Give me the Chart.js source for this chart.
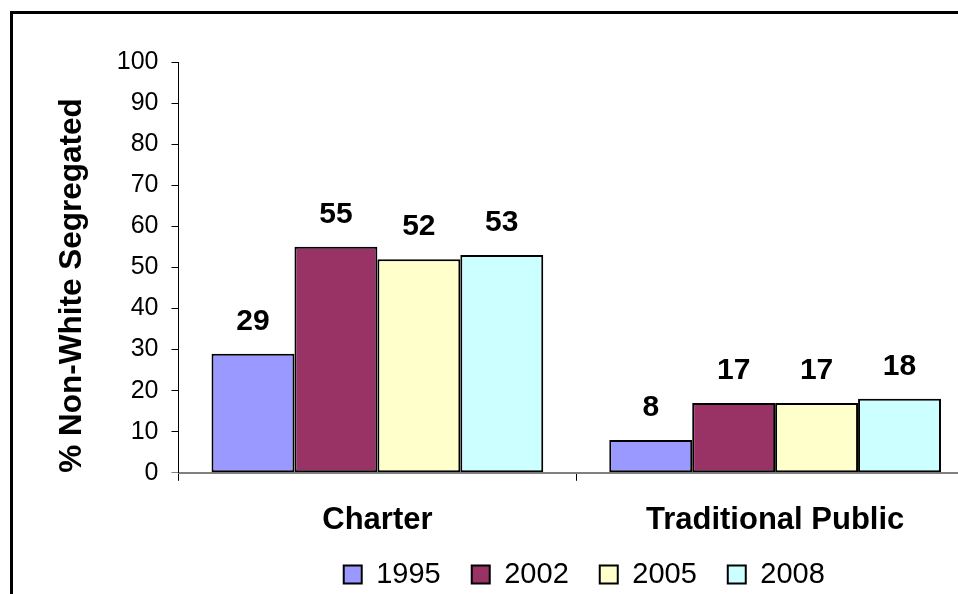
<!DOCTYPE html>
<html lang="en">
<head>
    <meta charset="UTF-8">
    <title>% Non-White Segregated</title>
    <script src="https://cdn.jsdelivr.net/npm/chart.js"></script>
    <style>
        html, body { margin: 0; padding: 0; background: #fff; }
        #wrap { position: relative; width: 958px; height: 594px; overflow: hidden; }
        #box { position: absolute; left: 0; top: 0; width: 1000px; height: 630px; }
        #frame { position: absolute; left: 10px; top: 11px; width: 1100px; height: 700px;
                 border-left: 3px solid #000; border-top: 3px solid #000; pointer-events: none; }
    </style>
</head>
<body>
    <div id="wrap">
        <div id="box"><canvas id="myChart"></canvas></div>
        <div id="frame"></div>
    </div>

    <script>
        const categories = ['Charter', 'Traditional Public'];
        const years = ['1995', '2002', '2005', '2008'];
        const values1995 = [29, 8];
        const values2002 = [55, 17];
        const values2005 = [52, 17];
        const values2008 = [53, 18];
        const yTicks = [0, 10, 20, 30, 40, 50, 60, 70, 80, 90, 100];

        const colors = ['#9999FF', '#993366', '#FFFFCC', '#CCFFFF'];
        const seriesValues = [values1995, values2002, values2005, values2008];
        const fontName = '"Liberation Sans", Arial, sans-serif';

        // 棒の上に値を描く
        const valueLabels = {
            id: 'valueLabels',
            afterDatasetsDraw(chart) {
                const ctx = chart.ctx;
                ctx.save();
                ctx.font = 'bold 30px ' + fontName;
                ctx.fillStyle = '#000';
                ctx.textAlign = 'center';
                ctx.textBaseline = 'alphabetic';
                chart.data.datasets.forEach((ds, i) => {
                    chart.getDatasetMeta(i).data.forEach((bar, j) => {
                        ctx.fillText(String(ds.data[j]), bar.x, bar.y - 24);
                    });
                });
                ctx.restore();
            }
        };

        // 凡例の位置を微調整 (padding は横の間隔に使う)
        const legendShift = {
            id: 'legendShift',
            afterLayout(chart) {
                const lg = chart.legend;
                if (lg) {
                    lg.top -= 31;
                    lg.bottom -= 31;
                    lg.left += 8;
                    lg.right += 8;
                }
            }
        };

        const ctx = document.getElementById('myChart').getContext('2d');
        new Chart(ctx, {
            type: 'bar',
            data: {
                labels: categories,
                datasets: years.map((y, i) => ({
                    label: y,
                    data: seriesValues[i],
                    backgroundColor: colors[i],
                    borderColor: '#000',
                    borderWidth: 2,
                    borderSkipped: false,
                    categoryPercentage: 0.834,
                    barPercentage: 1.0
                }))
            },
            options: {
                responsive: true,
                maintainAspectRatio: false,
                animation: false,
                layout: {
                    padding: { left: 0, right: 26, top: 62, bottom: 0 }
                },
                plugins: {
                    tooltip: { enabled: false },
                    legend: {
                        position: 'bottom',
                        fullSize: false,
                        labels: {
                            color: '#000',
                            font: { family: fontName, size: 29 },
                            boxWidth: 18,
                            boxHeight: 18,
                            padding: 31
                        }
                    }
                },
                scales: {
                    x: {
                        grid: {
                            offset: true,
                            drawOnChartArea: false,
                            drawTicks: true,
                            tickLength: 8,
                            color: '#000'
                        },
                        border: { color: '#808080', width: 2 },
                        ticks: {
                            color: '#000',
                            padding: 21,
                            font: { family: fontName, size: 31, weight: 'bold' }
                        }
                    },
                    y: {
                        min: 0,
                        max: 100,
                        afterBuildTicks: axis => {
                            axis.ticks = yTicks.map(v => ({ value: v }));
                        },
                        grid: {
                            drawOnChartArea: false,
                            drawTicks: true,
                            tickLength: 7,
                            color: c => (c.tick && c.tick.value === 0) ? '#808080' : '#000'
                        },
                        border: { color: '#000', width: 1 },
                        ticks: {
                            color: '#000',
                            padding: 13,
                            font: { family: fontName, size: 25 }
                        },
                        title: {
                            display: true,
                            text: '% Non-White Segregated',
                            align: 'start',
                            color: '#000',
                            font: { family: fontName, size: 31.5, weight: 'bold' },
                            padding: { top: 53, bottom: 13 }
                        }
                    }
                }
            },
            plugins: [valueLabels, legendShift]
        });
    </script>
</body>
</html>
